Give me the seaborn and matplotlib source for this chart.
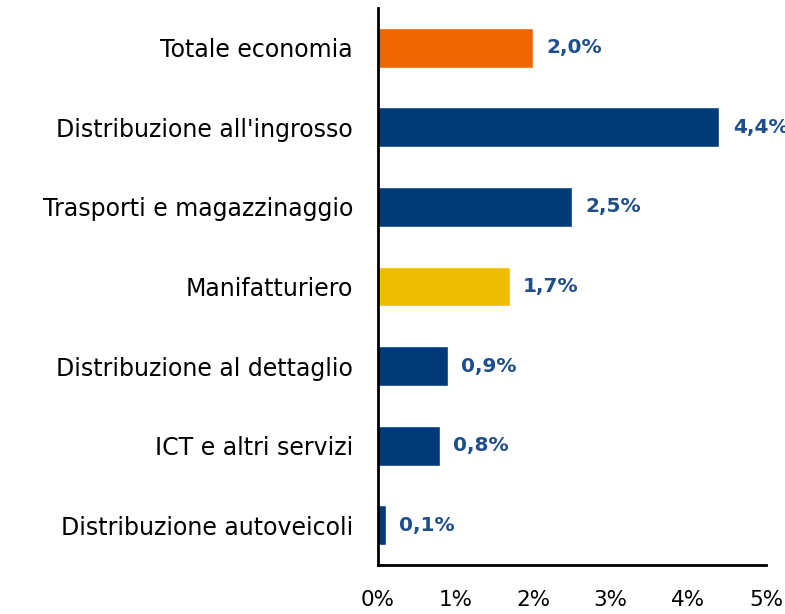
import matplotlib
matplotlib.use('Agg')
import matplotlib.pyplot as plt
import seaborn as sns
import pandas as pd

categories = ['Totale economia', "Distribuzione all'ingrosso", 'Trasporti e magazzinaggio',
              'Manifatturiero', 'Distribuzione al dettaglio', 'ICT e altri servizi',
              'Distribuzione autoveicoli']
values = [2.0, 4.4, 2.5, 1.7, 0.9, 0.8, 0.1]
colors = ['#EE6600', '#003A78', '#003A78', '#EEBD00', '#003A78', '#003A78', '#003A78']
tick_labels = ['0%', '1%', '2%', '3%', '4%', '5%']

sns.set_style('white')
plt.rcParams['font.family'] = ['DejaVu Sans']

df = pd.DataFrame({'cat': categories, 'val': values})

fig = plt.figure(figsize=(7.85, 6.14), dpi=100)
ax = fig.add_axes([378 / 785, 1 - 565 / 614, (766 - 378) / 785, (565 - 8) / 614])
sns.barplot(data=df, x='val', y='cat', hue='cat', palette=colors, legend=False,
            width=0.5, ax=ax, saturation=1)

for i, v in enumerate(values):
    ax.text(v + 0.17, i, f'{v:.1f}%'.replace('.', ','), va='center', ha='left',
            fontsize=14.5, fontweight='bold', color='#1F4E8C', clip_on=False)

ax.set_xlim(0, 5)
ax.set_xticks(range(6))
ax.set_xticklabels(tick_labels, fontsize=15.5, color='black')
ax.tick_params(axis='x', direction='out', length=7, width=1.5, color='black', pad=11)
ax.tick_params(axis='y', length=0, labelsize=17, labelcolor='black', pad=18)
ax.set_xlabel('')
ax.set_ylabel('')
for s in ['top', 'right']:
    ax.spines[s].set_visible(False)
for s in ['left', 'bottom']:
    ax.spines[s].set_color('black')
    ax.spines[s].set_linewidth(2)

fig.savefig('out.png', dpi=100)
